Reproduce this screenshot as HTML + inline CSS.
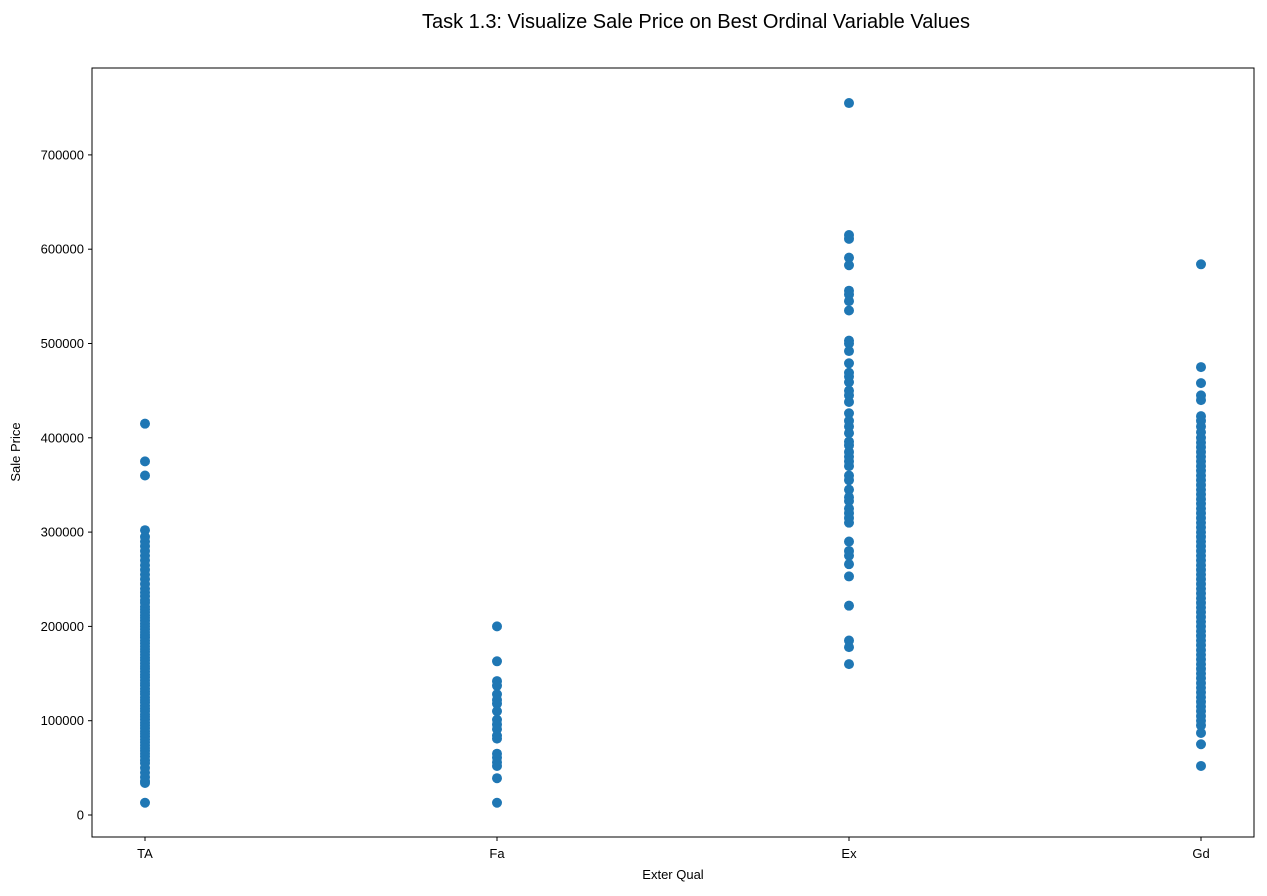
<!DOCTYPE html>
<html><head><meta charset="utf-8"><style>
body{margin:0;background:#fff;font-family:"Liberation Sans",sans-serif;}
</style></head><body>
<svg id="chart" width="1267" height="891" xmlns="http://www.w3.org/2000/svg" font-family="Liberation Sans, DejaVu Sans, sans-serif">
<text x="696" y="28" text-anchor="middle" font-size="20" fill="#000">Task 1.3: Visualize Sale Price on Best Ordinal Variable Values</text>
<rect x="92" y="68" width="1162" height="769" fill="none" stroke="#000" stroke-width="1"/>
<g id="yaxis"></g><g id="xaxis"></g><g id="points"></g>
<text x="673" y="879" text-anchor="middle" font-size="13">Exter Qual</text>
<text transform="translate(20,452) rotate(-90)" text-anchor="middle" font-size="13">Sale Price</text>
</svg>
<script>
const categories=["TA","Fa","Ex","Gd"];
const yTicks=[0,100000,200000,300000,400000,500000,600000,700000];
const taValues=[415000,375000,360000,302000,295000,290000,285000,280000,275000,270000,265000,260000,255000,250000,245000,240000,236000,232000,228000,225000,221000,218000,215000,212000,209000,206000,203000,200000,197000,194000,191000,188000,185000,182000,179000,176000,173000,170000,167000,164000,161000,158000,155000,152000,149000,146000,143000,140000,137000,134000,131000,128000,125000,122000,119000,116000,113000,110000,107000,104000,101000,98000,95000,92000,89000,86000,83000,80000,77000,74000,71000,68000,65000,62000,58000,55000,50000,45000,40000,36000,34000,13000];
const faValues=[200000,163000,142000,137000,128000,122000,118000,110000,101000,96000,91000,84000,81000,65000,61000,56000,52000,39000,13000];
const exValues=[755000,615000,611000,591000,583000,556000,552000,545000,535000,503000,500000,492000,479000,469000,465000,459000,450000,445000,438000,426000,418000,412000,405000,396000,392000,385000,380000,375000,370000,360000,355000,345000,337000,333000,325000,320000,315000,310000,290000,280000,275000,266000,253000,222000,185000,178000,160000];
const gdValues=[584000,475000,458000,445000,440000,423000,418000,412000,406000,400000,395000,390000,385000,380000,375000,370000,365000,360000,355000,350000,345000,340000,335000,330000,325000,320000,315000,310000,305000,300000,295000,290000,285000,280000,275000,270000,265000,260000,255000,250000,245000,240000,235000,230000,225000,220000,215000,210000,205000,200000,195000,190000,185000,180000,175000,170000,165000,160000,155000,150000,145000,140000,135000,130000,125000,120000,115000,110000,105000,100000,95000,87000,75000,52000];
const seriesValues=[taValues,faValues,exValues,gdValues];
const NS="http://www.w3.org/2000/svg";
function yScale(v){return 815-v*0.000943;}
function xScale(i){return 145+i*352;}
const ya=document.getElementById('yaxis'),xa=document.getElementById('xaxis'),pg=document.getElementById('points');
yTicks.forEach(t=>{
 const y=yScale(t);
 const l=document.createElementNS(NS,'line');
 
 
 l.setAttribute('x1',88);l.setAttribute('x2',92);l.setAttribute('y1',y);l.setAttribute('y2',y);l.setAttribute('stroke','#000');
 ya.appendChild(l);
 const tx=document.createElementNS(NS,'text');
 
 
 tx.setAttribute('x',84);tx.setAttribute('y',y+4.5);tx.setAttribute('text-anchor','end');tx.setAttribute('font-size','13');
 tx.textContent=t;ya.appendChild(tx);
});
categories.forEach((c,i)=>{
 const x=xScale(i);
 const l=document.createElementNS(NS,'line');
 
 
 l.setAttribute('x1',x);l.setAttribute('x2',x);l.setAttribute('y1',837);l.setAttribute('y2',841);l.setAttribute('stroke','#000');
 xa.appendChild(l);
 const tx=document.createElementNS(NS,'text');
 
 
 tx.setAttribute('x',x);tx.setAttribute('y',858);tx.setAttribute('text-anchor','middle');tx.setAttribute('font-size','13');
 tx.textContent=c;xa.appendChild(tx);
 seriesValues[i].forEach(v=>{
  const p=document.createElementNS(NS,'circle');
  
  
  p.setAttribute('cx',x);p.setAttribute('cy',yScale(v));p.setAttribute('r',5);p.setAttribute('fill','#1f77b4');
  pg.appendChild(p);
 });
});
</script>
</body></html>
